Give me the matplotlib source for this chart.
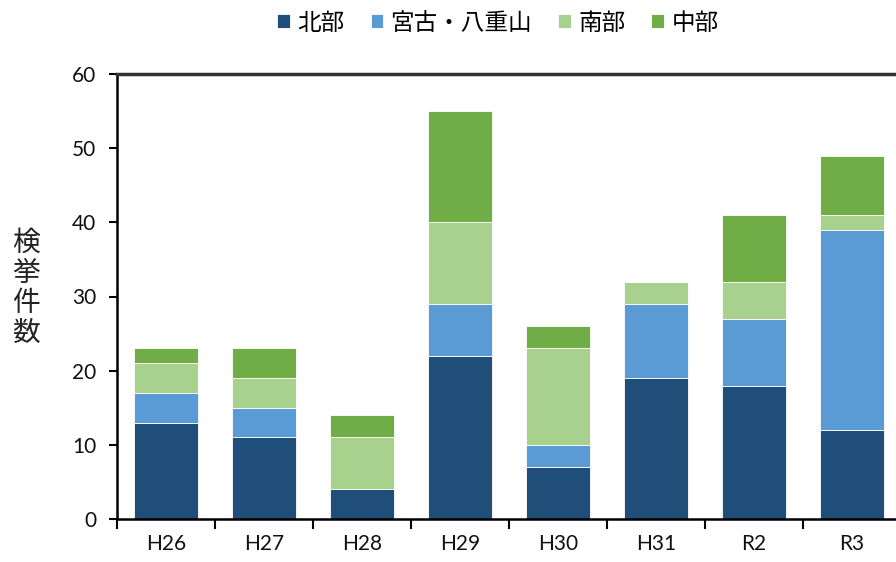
import numpy as np
import matplotlib.pyplot as plt

plt.rcParams['font.family'] = ['Noto Sans CJK JP', 'DejaVu Sans']

years = ['H26', 'H27', 'H28', 'H29', 'H30', 'H31', 'R2', 'R3']
hokubu = [13, 11, 4, 22, 7, 19, 18, 12]
miyako = [4, 4, 0, 7, 3, 10, 9, 27]
nanbu = [4, 4, 7, 11, 13, 3, 5, 2]
chubu = [2, 4, 3, 15, 3, 0, 9, 8]

series = [('北部', hokubu, '#1F4E79'),
          ('宮古・八重山', miyako, '#5B9BD5'),
          ('南部', nanbu, '#A9D18E'),
          ('中部', chubu, '#70AD47')]

fig = plt.figure(figsize=(8.96, 5.62), dpi=100)
ax = fig.add_axes([117 / 896, 43 / 562, 784 / 896, 445 / 562])

x = np.arange(len(years))
bottom = np.zeros(len(years))
for name, vals, col in series:
    ax.bar(x, vals, width=0.655, bottom=bottom, color=col, label=name,
           edgecolor='white', linewidth=0.6)
    bottom += np.array(vals)

ax.set_xlim(-0.5, len(years) - 0.5)
ax.set_ylim(0, 60)
ax.set_yticks(range(0, 61, 10))
ax.set_xticks(x)
ax.set_xticklabels(years)
ax.set_xticks(np.arange(-0.5, len(years), 1), minor=True)
ax.tick_params(axis='x', which='major', length=0, pad=11, labelsize=15)
ax.tick_params(axis='x', which='minor', length=7, width=1.5, direction='out')
ax.tick_params(axis='y', length=6, width=1.5, direction='out', pad=9, labelsize=15)
for lbl in ax.get_xticklabels() + ax.get_yticklabels():
    lbl.set_family(['Lato', 'DejaVu Sans'])
    lbl.set_color('#111111')

for s in ['left', 'bottom']:
    ax.spines[s].set_linewidth(1.8)
ax.spines['top'].set_linewidth(2.5)
ax.spines['top'].set_color('#333333')
ax.spines['right'].set_visible(False)

fig.text(26 / 896, 1 - 288 / 562, '検\n挙\n件\n数', fontsize=20, ha='center',
         va='center', linespacing=1.0, color='#222222')

fig.legend(loc='center', bbox_to_anchor=(498 / 896, 1 - 23 / 562), ncol=4,
           frameon=False, fontsize=17, handlelength=0.55, handleheight=0.55,
           handletextpad=0.3, columnspacing=1.1)

fig.savefig('out.png', dpi=100)
